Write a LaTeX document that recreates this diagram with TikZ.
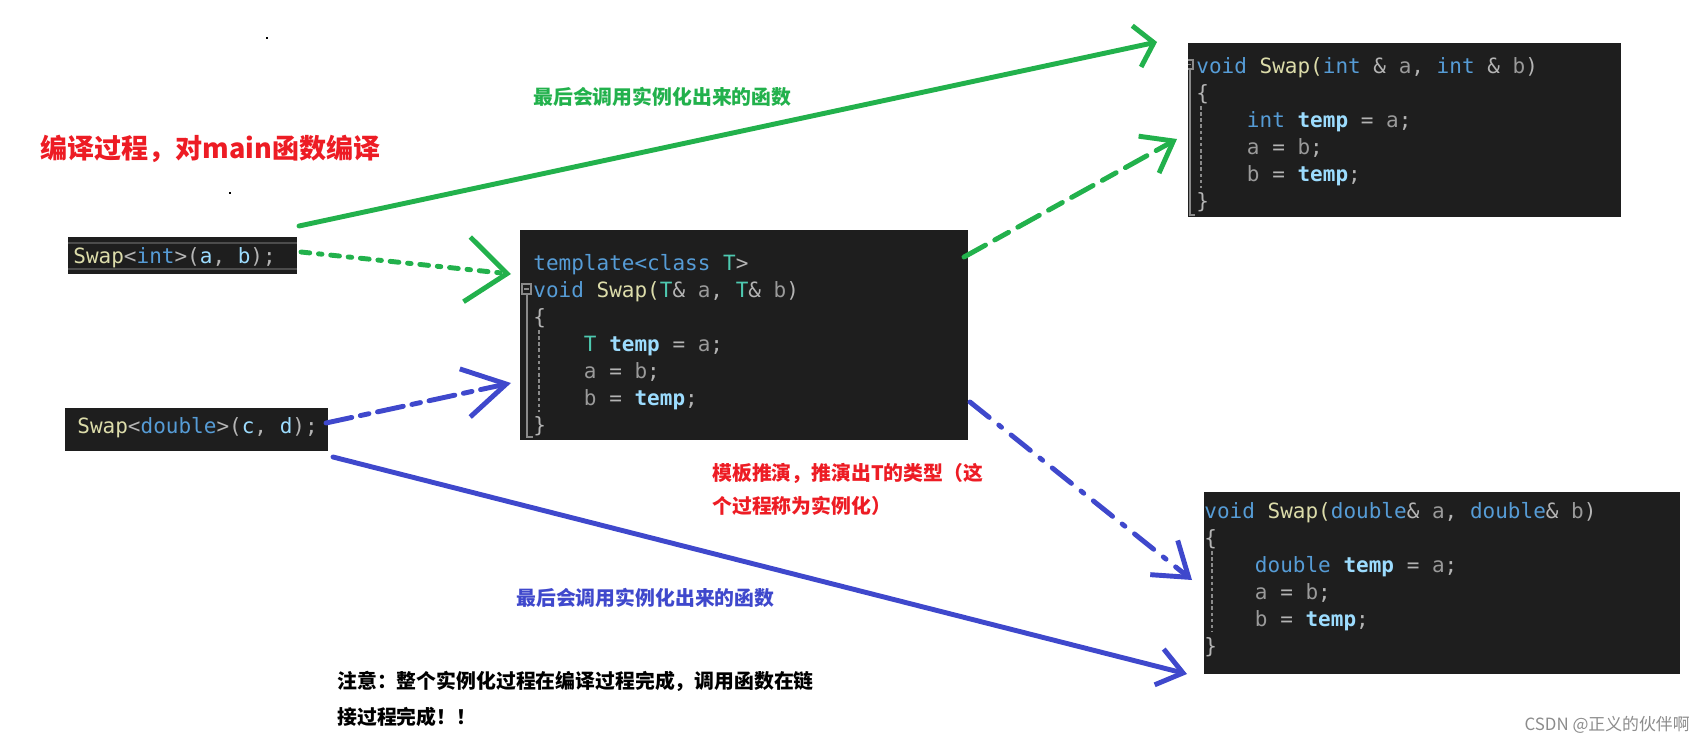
\documentclass[tikz,border=0pt]{standalone}
\usepackage{fontspec}
\newfontfamily\codefont{DejaVu Sans Mono}
\newfontfamily\cjk{Noto Sans CJK SC}
\usetikzlibrary{fit,arrows.meta}

\definecolor{pgreen}{HTML}{22B14C}
\definecolor{pblue}{HTML}{3F48CC}
\definecolor{pred}{HTML}{ED1C24}
\definecolor{codebg}{HTML}{1E1E1E}
\definecolor{kwblue}{HTML}{569CD6}
\definecolor{fnyel}{HTML}{DCDCAA}
\definecolor{tyteal}{HTML}{4EC9B0}
\definecolor{varblue}{HTML}{9CDCFE}
\definecolor{pargray}{HTML}{9A9A9A}
\definecolor{puncgray}{HTML}{B4B4B4}
\definecolor{guidegray}{HTML}{8A8A8A}

\newcommand\ckw[1]{\textcolor{kwblue}{#1}}
\newcommand\cfn[1]{\textcolor{fnyel}{#1}}
\newcommand\cty[1]{\textcolor{tyteal}{#1}}
\newcommand\cvar[1]{\textcolor{varblue}{\bfseries #1}}
\newcommand\cloc[1]{\textcolor{varblue}{#1}}
\newcommand\cpar[1]{\textcolor{pargray}{#1}}
\newcommand\cpn[1]{\textcolor{puncgray}{#1}}
\newcommand\ind{\phantom{0000}}

\tikzset{
  codebox/.style={fill=codebg,draw=none,inner sep=0pt},
  code/.style={font=\codefont\fontsize{11.96pt}{15.3pt}\selectfont,align=left,anchor=base west,inner sep=0pt},
  label/.style={font=\cjk\bfseries\fontsize{11.3pt}{18.7pt}\selectfont,anchor=west,inner sep=0pt,align=left},
  hand/.style={line width=2.8pt,line cap=round},
  foldbox/.style={draw=guidegray,line width=0.6pt},
}

\begin{document}
\begin{tikzpicture}[x=0.02cm,y=-0.02cm]
\useasboundingbox (0,0) rectangle (1704,744);

% the code pictures
\node[codebox,fit={(68,237) (297,274)}] (intcall) {};
\node[codebox,fit={(65,408) (328,451)}] (dblcall) {};
\node[codebox,fit={(520,230) (968,440)}] (tmpl) {};
\node[codebox,fit={(1188,43) (1621,217)}] (intfn) {};
\node[codebox,fit={(1204,492) (1680,674)}] (dblfn) {};

% current line marks and fold guides
\draw[color=black!70,line width=1.2pt] (68,243) -- (297,243) (68,269) -- (297,269);
\draw[foldbox] (522,284) rectangle (531,294) (524,289) -- (529,289);
\draw[foldbox] (527,294) -- (527,437) -- (533,437);
\draw[foldbox,dashed,dash pattern=on 2pt off 1.5pt] (539,330) -- (539,412);
\draw[foldbox] (1188,60) -- (1193,60) -- (1193,69) -- (1188,69) (1188,64.5) -- (1191,64.5);
\draw[foldbox] (1190,69) -- (1190,215) -- (1195,215);
\draw[foldbox,dashed,dash pattern=on 2pt off 1.5pt] (1201,106) -- (1201,188);
\draw[foldbox,dashed,dash pattern=on 2pt off 1.5pt] (1212,551) -- (1212,632);

% multi-line code is placed by the baseline of its last line
\node[code] (intcalltxt) at (73,263)
  {\cfn{Swap}\cpn{<}\ckw{int}\cpn{>(}\cloc{a}\cpn{,} \cloc{b}\cpn{);}};
\node[code] (dblcalltxt) at (77,433)
  {\cfn{Swap}\cpn{<}\ckw{double}\cpn{>(}\cloc{c}\cpn{,} \cloc{d}\cpn{);}};
\node[code] (tmpltxt) at (533,432)
  {\ckw{template}\ckw{<}\ckw{class} \cty{T}\cpn{>}\\
   \ckw{void} \cfn{Swap(}\cty{T}\cpn{\&} \cpar{a}\cpn{,} \cty{T}\cpn{\&} \cpar{b}\cpn{)}\\
   \cpn{\{}\\
   \ind\cty{T} \cvar{temp} \cpn{=} \cpar{a}\cpn{;}\\
   \ind\cpar{a} \cpn{=} \cpar{b}\cpn{;}\\
   \ind\cpar{b} \cpn{=} \cvar{temp}\cpn{;}\\
   \cpn{\}}};
\node[code] (intfntxt) at (1196,208)
  {\ckw{void} \cfn{Swap(}\ckw{int} \cpn{\&} \cpar{a}\cpn{,} \ckw{int} \cpn{\&} \cpar{b}\cpn{)}\\
   \cpn{\{}\\
   \ind\ckw{int} \cvar{temp} \cpn{=} \cpar{a}\cpn{;}\\
   \ind\cpar{a} \cpn{=} \cpar{b}\cpn{;}\\
   \ind\cpar{b} \cpn{=} \cvar{temp}\cpn{;}\\
   \cpn{\}}};
\node[code] (dblfntxt) at (1204,653)
  {\ckw{void} \cfn{Swap(}\ckw{double}\cpn{\&} \cpar{a}\cpn{,} \ckw{double}\cpn{\&} \cpar{b}\cpn{)}\\
   \cpn{\{}\\
   \ind\ckw{double} \cvar{temp} \cpn{=} \cpar{a}\cpn{;}\\
   \ind\cpar{a} \cpn{=} \cpar{b}\cpn{;}\\
   \ind\cpar{b} \cpn{=} \cvar{temp}\cpn{;}\\
   \cpn{\}}};

% texts
\node[label,pred,font=\cjk\bfseries\fontsize{15.4pt}{18pt}\selectfont] (title) at (40,149) {编译过程，对main函数编译};
\node[label,pgreen] (greennote) at (533,97) {最后会调用实例化出来的函数};
\node[label,pred] (deduce) at (712,489) {模板推演，推演出T的类型（这\\个过程称为实例化）};
\node[label,pblue] (bluenote) at (516,598) {最后会调用实例化出来的函数};
\node[label,black,font=\cjk\bfseries\fontsize{11.3pt}{20.4pt}\selectfont] (linknote) at (337,699)
  {注意：整个实例化过程在编译过程完成，调用函数在链\\接过程完成！！};
\node[anchor=east,inner sep=0pt,text=black!45,font=\cjk\fontsize{9.6pt}{12pt}\selectfont] (mark) at (1690,725) {CSDN @正义的伙伴啊};

% stray dots
\fill (266,37) rectangle (268,39);
\fill (229,192) rectangle (231,194);

% arrow ends
\coordinate (gs1) at (299,226);  \coordinate (ge1) at (1157,42);
\coordinate (gs2) at (301,252);  \coordinate (ge2) at (511,274);
\coordinate (gs3) at (964,257);  \coordinate (ge3) at (1177,139);
\coordinate (bs1) at (326,423);  \coordinate (be1) at (511,383);
\coordinate (bs2) at (970,402);  \coordinate (be2) at (1192,580);
\coordinate (bs3) at (333,457);  \coordinate (be3) at (1187,674);

\draw[hand,pgreen,-{Straight Barb[length=10pt,width=24pt]}] (gs1) -- (ge1);
\draw[hand,pgreen,dash pattern=on 5pt off 5pt on 2pt off 5pt,
  -{Straight Barb[length=23pt,width=37pt]}] (gs2) -- (ge2);
\draw[hand,pgreen,dash pattern=on 14pt off 6pt on 9pt off 6pt,
  -{Straight Barb[length=16pt,width=24pt]}] (gs3) -- (ge3);
\draw[hand,pblue,dash pattern=on 15pt off 5pt on 5pt off 5pt,
  -{Straight Barb[length=24pt,width=28pt]}] (bs1) -- (be1);
\draw[hand,pblue,dash pattern=on 14pt off 7pt on 2pt off 7pt,
  -{Straight Barb[length=18pt,width=25pt]}] (bs2) -- (be2);
\draw[hand,pblue,-{Straight Barb[length=14pt,width=21pt]}] (bs3) -- (be3);
\end{tikzpicture}
\end{document}
